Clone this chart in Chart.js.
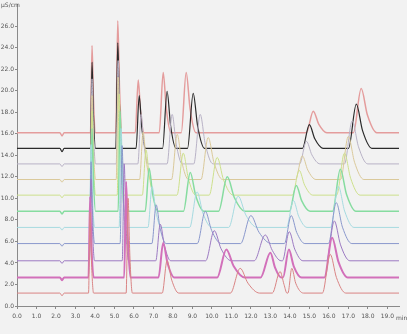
<!DOCTYPE html>
<html>
<head>
<meta charset="utf-8">
<script src="https://cdn.jsdelivr.net/npm/chart.js@4"></script>
<style>
  html, body { margin: 0; padding: 0; background: #f2f2f2; }
  canvas { display: block; }
</style>
</head>
<body>
<canvas id="c" width="407" height="334"></canvas>
<script>
// Retention time (min) / conductivity (μS/cm) pairs for each run, stacked top to bottom
const run01 = [[0,16.1],[2.2,16.1],[2.31,15.8],[2.42,16.1],
  [3.77,16.1],[3.85,24.2],[3.92,19.34],[4.03,16.1],
  [5.07,16.1],[5.17,26.5],[5.26,20.26],[5.39,16.1],
  [6.07,16.1],[6.22,21.0],[6.34,18.06],[6.52,16.1],
  [7.30,16.1],[7.50,21.7],[7.66,18.34],[7.90,16.1],
  [8.43,16.1],[8.68,21.7],[8.88,18.34],[9.18,16.1],
  [14.85,16.1],[15.20,18.1],[15.48,16.9],[15.90,16.1],
  [17.26,16.1],[17.66,20.2],[17.98,17.74],[18.46,16.1],[19.6,16.1]];
const run02 = [[0,14.65],[2.2,14.65],[2.31,14.35],[2.42,14.65],
  [3.77,14.65],[3.85,22.65],[3.92,17.85],[4.03,14.65],
  [5.07,14.65],[5.17,24.45],[5.26,18.57],[5.39,14.65],
  [6.11,14.65],[6.27,19.55],[6.40,16.61],[6.60,14.65],
  [7.47,14.65],[7.70,19.95],[7.88,16.77],[8.16,14.65],
  [8.75,14.65],[9.04,19.75],[9.27,16.69],[9.62,14.65],
  [14.65,14.65],[15.00,16.85],[15.28,15.53],[15.70,14.65],
  [17.01,14.65],[17.41,18.75],[17.73,16.29],[18.21,14.65],[19.6,14.65]];
const run03 = [[0,13.2],[2.2,13.2],[2.31,12.95],[2.42,13.2],
  [3.77,13.2],[3.85,21.1],[3.92,16.36],[4.03,13.2],
  [5.09,13.2],[5.19,22.8],[5.28,17.04],[5.41,13.2],
  [6.20,13.2],[6.37,17.8],[6.51,15.04],[6.73,13.2],
  [7.70,13.2],[7.96,17.8],[8.17,15.04],[8.48,13.2],
  [9.07,13.2],[9.40,17.8],[9.66,15.04],[10.06,13.2],
  [14.50,13.2],[14.85,15.3],[15.13,14.04],[15.55,13.2],
  [16.80,13.2],[17.20,17.2],[17.52,14.8],[18.00,13.2],[19.6,13.2]];
const run04 = [[0,11.75],[2.2,11.75],[2.31,11.5],[2.42,11.75],
  [3.77,11.75],[3.85,19.55],[3.92,14.87],[4.03,11.75],
  [5.09,11.75],[5.19,21.25],[5.28,15.55],[5.41,11.75],
  [6.29,11.75],[6.47,16.15],[6.63,13.51],[6.86,11.75],
  [7.93,11.75],[8.22,15.95],[8.45,13.43],[8.80,11.75],
  [9.44,11.75],[9.81,15.65],[10.11,13.31],[10.55,11.75],
  [14.29,11.75],[14.64,13.95],[14.92,12.63],[15.34,11.75],
  [16.60,11.75],[17.00,15.75],[17.32,13.35],[17.80,11.75],[19.6,11.75]];
const run05 = [[0,10.3],[2.2,10.3],[2.31,10.05],[2.42,10.3],
  [3.77,10.3],[3.85,18.1],[3.92,13.42],[4.03,10.3],
  [5.14,10.3],[5.24,19.7],[5.33,14.06],[5.46,10.3],
  [6.43,10.3],[6.62,14.5],[6.79,11.98],[7.04,10.3],
  [8.21,10.3],[8.53,14.2],[8.79,11.86],[9.17,10.3],
  [9.86,10.3],[10.27,13.8],[10.60,11.7],[11.09,10.3],
  [14.13,10.3],[14.48,12.6],[14.76,11.22],[15.18,10.3],
  [16.40,10.3],[16.80,14.2],[17.12,11.86],[17.60,10.3],[19.6,10.3]];
const run06 = [[0,8.8],[2.2,8.8],[2.31,8.55],[2.42,8.8],
  [3.77,8.8],[3.85,16.5],[3.92,11.88],[4.03,8.8],
  [5.19,8.8],[5.29,18.1],[5.38,12.52],[5.51,8.8],
  [6.58,8.8],[6.78,12.8],[6.96,10.4],[7.23,8.8],
  [8.54,8.8],[8.89,12.4],[9.17,10.24],[9.59,8.8],
  [10.34,8.8],[10.79,12.0],[11.15,10.08],[11.69,8.8],
  [13.98,8.8],[14.33,11.2],[14.61,9.76],[15.03,8.8],
  [16.19,8.8],[16.59,12.7],[16.91,10.36],[17.39,8.8],[19.6,8.8]];
const run07 = [[0,7.3],[2.2,7.3],[2.31,7.05],[2.42,7.3],
  [3.72,7.3],[3.80,15.0],[3.87,10.38],[3.98,7.3],
  [5.24,7.3],[5.34,16.5],[5.43,10.98],[5.56,7.3],
  [6.72,7.3],[6.93,11.1],[7.12,8.82],[7.41,7.3],
  [8.86,7.3],[9.24,10.6],[9.54,8.62],[10.00,7.3],
  [10.86,7.3],[11.35,10.2],[11.74,8.46],[12.33,7.3],
  [13.83,7.3],[14.18,9.8],[14.46,8.3],[14.88,7.3],
  [16.09,7.3],[16.49,11.1],[16.81,8.82],[17.29,7.3],[19.6,7.3]];
const run08 = [[0,5.8],[2.2,5.8],[2.31,5.55],[2.42,5.8],
  [3.72,5.8],[3.80,13.4],[3.87,8.84],[3.98,5.8],
  [5.29,5.8],[5.39,14.9],[5.48,9.44],[5.61,5.8],
  [6.92,5.8],[7.14,9.4],[7.34,7.24],[7.65,5.8],
  [9.25,5.8],[9.66,8.8],[9.99,7.0],[10.48,5.8],
  [11.47,5.8],[12.0,8.4],[12.42,6.84],[13.06,5.8],
  [13.72,5.8],[14.07,8.4],[14.35,6.84],[14.77,5.8],
  [15.98,5.8],[16.38,9.6],[16.70,7.32],[17.18,5.8],[19.6,5.8]];
const run09 = [[0,4.2],[2.2,4.2],[2.31,3.95],[2.42,4.2],
  [3.72,4.2],[3.80,11.8],[3.87,7.24],[3.98,4.2],
  [5.40,4.2],[5.50,13.2],[5.59,7.8],[5.72,4.2],
  [7.12,4.2],[7.35,7.6],[7.57,5.56],[7.89,4.2],
  [9.68,4.2],[10.12,7.0],[10.47,5.32],[11.00,4.2],
  [12.17,4.2],[12.74,6.6],[13.10,5.16],[13.55,4.2],
  [13.62,4.2],[13.97,6.9],[14.25,5.28],[14.67,4.2],
  [15.88,4.2],[16.28,7.9],[16.60,5.68],[17.08,4.2],[19.6,4.2]];
const run10 = [[0,2.65],[2.2,2.65],[2.31,2.4],[2.42,2.65],
  [3.67,2.65],[3.75,10.15],[3.82,5.65],[3.93,2.65],
  [5.50,2.65],[5.60,11.55],[5.69,6.21],[5.82,2.65],
  [7.26,2.65],[7.50,5.85],[7.73,3.93],[8.07,2.65],
  [10.27,2.65],[10.74,5.25],[11.12,3.69],[11.68,2.65],
  [12.50,2.65],[13.00,4.95],[13.24,3.57],[13.55,2.65],
  [13.65,2.65],[13.95,5.25],[14.20,3.69],[14.60,2.65],
  [15.77,2.65],[16.17,6.35],[16.49,4.13],[16.97,2.65],[19.6,2.65]];
const run11 = [[0,1.2],[2.2,1.2],[2.31,0.95],[2.42,1.2],
  [3.67,1.2],[3.75,8.7],[3.82,4.2],[3.93,1.2],
  [5.60,1.2],[5.70,10.0],[5.79,4.72],[5.92,1.2],
  [7.45,1.2],[7.70,4.2],[7.94,2.4],[8.30,1.2],
  [10.95,1.2],[11.45,3.5],[11.85,2.12],[12.45,1.2],
  [13.10,1.2],[13.50,3.2],[13.70,2.0],[13.85,1.2],
  [13.90,1.2],[14.10,3.5],[14.30,2.12],[14.70,1.2],
  [15.67,1.2],[16.07,4.8],[16.39,2.64],[16.87,1.2],[19.6,1.2]];

const runs = [run01, run02, run03, run04, run05, run06, run07, run08, run09, run10, run11];
const runColors = ['#e49c9c', '#2a2a2a', '#b8b2c6', '#dac99a', '#cde08c', '#86dca0',
                   '#a6dae0', '#8a98cc', '#9c7ac2', '#d270ba', '#d98484'];
const runWidths = [1.5, 1.2, 1, 1, 1, 1.5, 1, 1, 1, 2, 1];

const xTicks = [0,1,2,3,4,5,6,7,8,9,10,11,12,13,14,15,16,17,18,19];
const yTicks = [0,2,4,6,8,10,12,14,16,18,20,22,24,26];

const unitLabels = {
  id: 'unitLabels',
  beforeDraw(chart) {
    const ctx = chart.ctx;
    ctx.save();
    ctx.fillStyle = '#f2f2f2';
    ctx.fillRect(0, 0, chart.width, chart.height);
    ctx.restore();
  },
  afterDraw(chart) {
    const ctx = chart.ctx;
    ctx.save();
    ctx.fillStyle = '#555';
    ctx.font = '6px "DejaVu Sans"';
    ctx.textBaseline = 'middle';
    ctx.textAlign = 'left';
    ctx.fillText('μS/cm', 1, 5);
    ctx.fillText('min', 396, 318);
    ctx.restore();
  }
};

new Chart(document.getElementById('c'), {
  type: 'line',
  data: {
    datasets: runs.map((d, i) => ({
      data: d,
      borderColor: runColors[i],
      borderWidth: runWidths[i],
      pointRadius: 0,
      fill: false,
      cubicInterpolationMode: 'monotone'
    })).reverse()
  },
  options: {
    responsive: false,
    animation: false,
    devicePixelRatio: 1,
    layout: { padding: { top: 0, right: 8, left: 0, bottom: 0 } },
    plugins: { legend: { display: false }, tooltip: { enabled: false } },
    scales: {
      x: {
        type: 'linear', min: 0, max: 19.6,
        afterBuildTicks: s => { s.ticks = xTicks.map(v => ({ value: v })); },
        afterFit: s => { s.height = 28; },
        border: { color: '#8a8a8a', width: 1 },
        grid: { display: true, drawOnChartArea: false, drawTicks: true, tickLength: 3, color: '#8a8a8a' },
        ticks: { color: '#555', font: { size: 6, family: 'DejaVu Sans' }, padding: 4, maxRotation: 0,
                 callback: v => v.toFixed(1) }
      },
      y: {
        min: 0, max: 28,
        afterBuildTicks: s => { s.ticks = yTicks.map(v => ({ value: v })); },
        afterFit: s => { s.width = 17; },
        border: { color: '#8a8a8a', width: 1 },
        grid: { display: true, drawOnChartArea: false, drawTicks: true, tickLength: 2, color: '#8a8a8a' },
        ticks: { color: '#555', font: { size: 6, family: 'DejaVu Sans' }, padding: 1,
                 callback: v => v.toFixed(1) }
      }
    }
  },
  plugins: [unitLabels]
});
</script>
</body>
</html>
